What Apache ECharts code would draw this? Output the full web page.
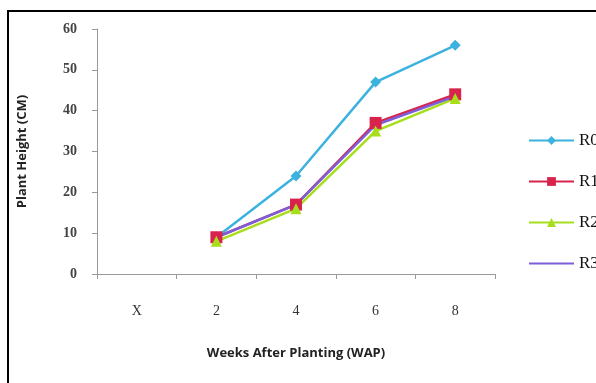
<!DOCTYPE html>
<html>
<head>
<meta charset="utf-8">
<script src="https://cdn.jsdelivr.net/npm/echarts@6/dist/echarts.min.js"></script>
<style>
  html, body { margin: 0; padding: 0; background: #fff; }
  #chart { width: 596px; height: 383px; }
</style>
</head>
<body>
<div id="chart"></div>
<script>
// Plant height by weeks after planting, four treatments
const weeks = ['X', '2', '4', '6', '8'];
const r0 = [null, 9, 24, 47, 56];
const r1 = [null, 9, 17, 37, 44];
const r2 = [null, 8, 16, 35, 43];
const r3 = [null, 9, 17, 36.5, 43.5];
const yTicks = { min: 0, max: 60, interval: 10 };

const chart = echarts.init(document.getElementById('chart'));

function line(name, data, color, symbol, size) {
  return {
    name: name,
    type: 'line',
    data: data,
    symbol: symbol,
    symbolSize: size,
    showSymbol: symbol !== 'none',
    connectNulls: false,
    lineStyle: { color: color, width: 2.5 },
    itemStyle: { color: color },
    emphasis: { disabled: true }
  };
}

chart.setOption({
  animation: false,
  backgroundColor: '#fff',
  graphic: [{
    type: 'rect',
    shape: { x: 8, y: 11, width: 620, height: 420 },
    style: { fill: 'none', stroke: '#000', lineWidth: 2 },
    z: 10
  }],
  grid: { left: 97, right: 101, top: 29, bottom: 109 },
  legend: {
    orient: 'vertical',
    left: 523,
    top: 127,
    itemWidth: 45,
    itemHeight: 11,
    itemGap: 24,
    textStyle: { fontFamily: 'Liberation Serif', fontSize: 17, lineHeight: 11, color: '#111' },
    data: ['R0', 'R1', 'R2', { name: 'R3', itemStyle: { opacity: 0 } }]
  },
  xAxis: {
    type: 'category',
    data: weeks,
    boundaryGap: true,
    name: 'Weeks After Planting (WAP)',
    nameLocation: 'middle',
    nameGap: 73,
    nameTextStyle: { fontFamily: 'Open Sans', fontWeight: 'bold', fontSize: 13, color: '#222' },
    axisLine: { lineStyle: { color: '#999', width: 1 } },
    axisTick: { show: true, length: 5, inside: false, lineStyle: { color: '#999' } },
    axisLabel: { margin: 30, fontFamily: 'Liberation Serif', fontSize: 14, color: '#333' },
    splitLine: { show: false }
  },
  yAxis: {
    type: 'value',
    min: yTicks.min,
    max: yTicks.max,
    interval: yTicks.interval,
    name: 'Plant Height (CM)',
    nameLocation: 'middle',
    nameGap: 68,
    nameTextStyle: { fontFamily: 'Open Sans', fontWeight: 'bold', fontSize: 13, color: '#222' },
    axisLine: { show: true, lineStyle: { color: '#999', width: 1 } },
    axisTick: { show: true, length: 5, lineStyle: { color: '#999' } },
    axisLabel: { margin: 20, fontFamily: 'Liberation Serif', fontWeight: 'bold', fontSize: 14, color: '#444' },
    splitLine: { show: false }
  },
  series: [
    line('R0', r0, '#3cb2de', 'diamond', 11),
    line('R1', r1, '#d8244c', 'rect', 12),
    line('R2', r2, '#a6de1c', 'triangle', 11),
    line('R3', r3, '#7c5fd8', 'none', 0)
  ]
});
</script>
</body>
</html>
